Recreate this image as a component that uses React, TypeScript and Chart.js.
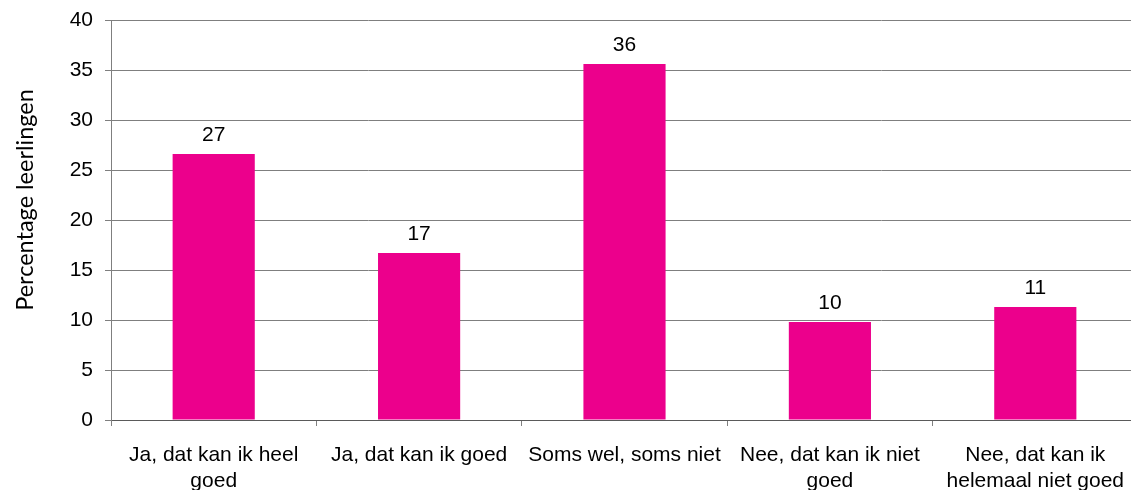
import React, { useEffect, useRef } from "react";
import { Chart, registerables } from "chart.js";

Chart.register(...registerables);

const categories: string[][] = [
  ["Ja, dat kan ik heel", "goed"],
  ["Ja, dat kan ik goed"],
  ["Soms wel, soms niet"],
  ["Nee, dat kan ik niet", "goed"],
  ["Nee, dat kan ik", "helemaal niet goed"],
];
const values: number[] = [26.6, 16.7, 35.6, 9.8, 11.3];
const valueLabels: string[] = ["27", "17", "36", "10", "11"];
const yTicks = { min: 0, max: 40, step: 5 };
const yTitle = "Percentage leerlingen";

const FONT = "'Liberation Sans', Arial, sans-serif";
const TITLE_FONT = "Lato, 'Open Sans', sans-serif";
const FS = 21;

const labelPlugin = {
  id: "valueLabels",
  afterDatasetsDraw(chart: any) {
    const ctx = chart.ctx;
    const meta = chart.getDatasetMeta(0);
    ctx.save();
    ctx.font = `${FS}px ${FONT}`;
    ctx.fillStyle = "#000";
    ctx.textAlign = "center";
    ctx.textBaseline = "bottom";
    meta.data.forEach((bar: any, i: number) => {
      ctx.fillText(valueLabels[i], bar.x, bar.y - 8);
    });
    ctx.restore();
  },
  afterDraw(chart: any) {
    const ctx = chart.ctx;
    const a = chart.chartArea;
    ctx.save();
    ctx.translate(25, (a.top + a.bottom) / 2 - 20);
    ctx.rotate(-Math.PI / 2);
    ctx.font = `23.5px ${TITLE_FONT}`;
    ctx.fillStyle = "#000";
    ctx.textAlign = "center";
    ctx.textBaseline = "middle";
    ctx.fillText(yTitle, 0, 0);
    ctx.restore();
  },
};

export default function App() {
  const ref = useRef<HTMLCanvasElement>(null);
  useEffect(() => {
    document.documentElement.style.overflow = "hidden";
    document.body.style.margin = "0";
    document.body.style.overflow = "hidden";
    if (!ref.current) return;
    const chart = new Chart(ref.current, {
      type: "bar",
      data: {
        labels: categories,
        datasets: [
          {
            data: values,
            backgroundColor: "#EC008C",
            borderWidth: 0,
            categoryPercentage: 0.8,
            barPercentage: 0.5,
          },
        ],
      },
      options: {
        animation: false,
        responsive: false,
        maintainAspectRatio: false,
        layout: { padding: { top: 20, right: 0, left: 0, bottom: 0 } },
        plugins: { legend: { display: false }, tooltip: { enabled: false } },
        scales: {
          x: {
            offset: true,
            grid: {
              offset: true,
              drawOnChartArea: false,
              drawTicks: true,
              tickLength: 6,
              color: "#808080",
              lineWidth: 1,
            },
            border: { color: "#5a5a5a", width: 1 },
            ticks: {
              color: "#000",
              font: { family: FONT, size: FS, lineHeight: 1.2 },
              padding: 17,
              maxRotation: 0,
              autoSkip: false,
            },
            afterFit: (s: any) => {
              s.height = 70;
              s.paddingLeft = 0;
              s.paddingRight = 0;
            },
          },
          y: {
            min: yTicks.min,
            max: yTicks.max,
            ticks: {
              stepSize: yTicks.step,
              color: "#000",
              font: { family: FONT, size: FS },
              padding: 12,
            },
            grid: { color: "#7f7f7f", lineWidth: 1, tickLength: 6 },
            border: { color: "#7f7f7f", width: 1 },
            afterFit: (s: any) => {
              s.width = 111;
              s.paddingTop = 0;
              s.paddingBottom = 0;
            },
          },
        },
      },
      plugins: [labelPlugin],
    });
    return () => chart.destroy();
  }, []);
  return (
    <div style={{ width: 1131, height: 490, overflow: "hidden" }}>
      <canvas ref={ref} width={1138} height={490} style={{ display: "block" }} />
    </div>
  );
}
